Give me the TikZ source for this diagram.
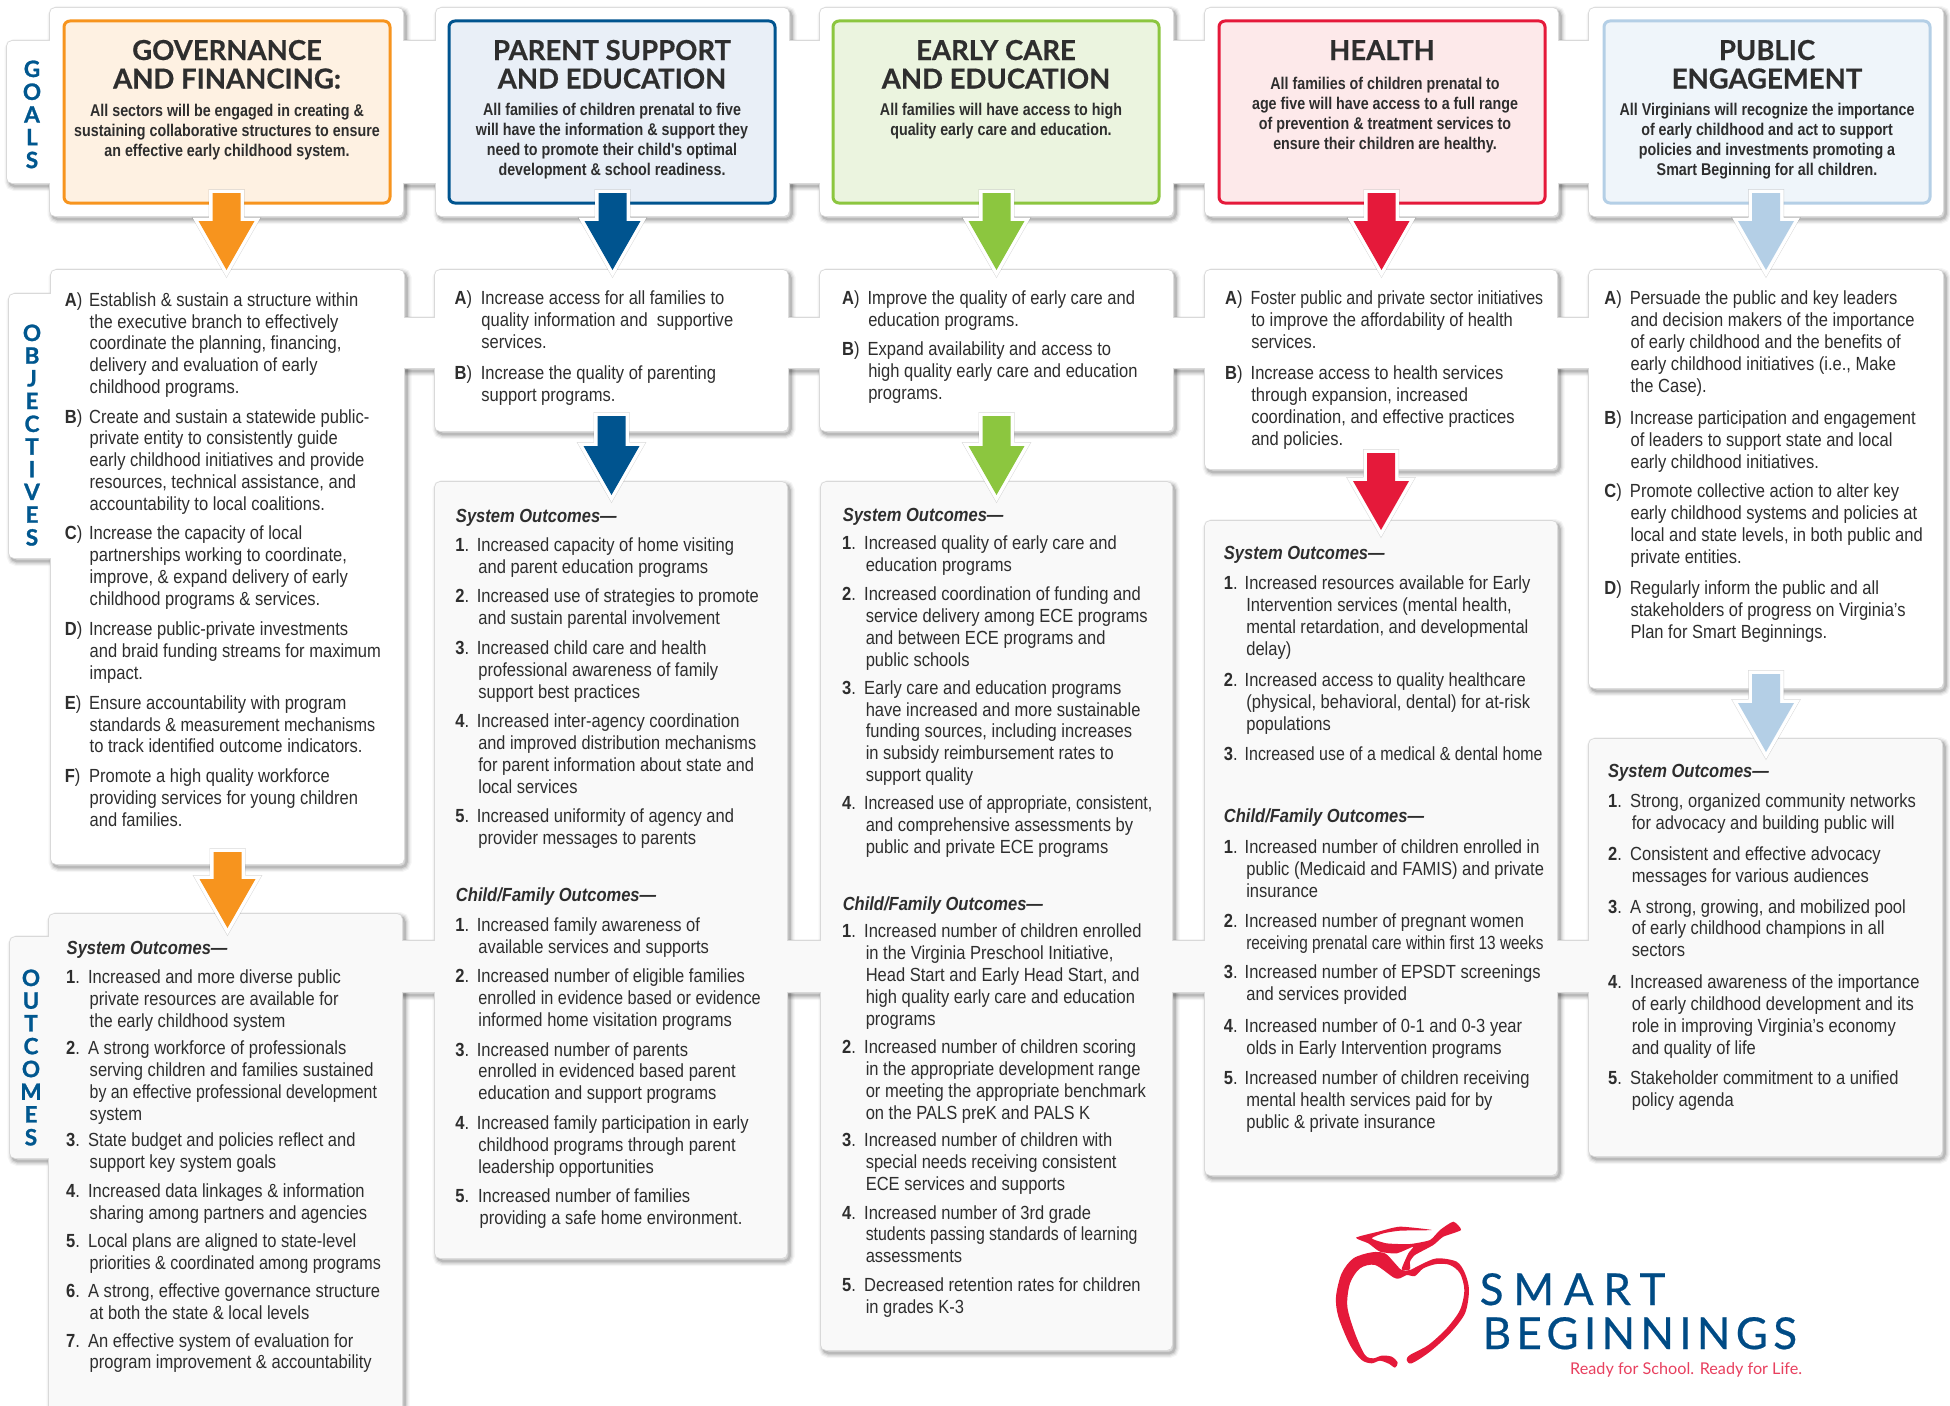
\documentclass[tikz,border=0pt]{standalone}
\usepackage{fontspec}
\usepackage{array}
\usepackage{graphicx}
\setmainfont[FakeStretch=0.87]{Liberation Sans}
\newfontfamily\descfont[FakeStretch=0.84]{Liberation Sans}
\newfontfamily\headfont[BoldFeatures={FakeBold=0.5}]{Lato}
\newfontfamily\tabfont[BoldFeatures={FakeBold=1.2}]{Lato}
\newfontfamily\logofontA[LetterSpace=22,FakeBold=0.5]{Lato}
\newfontfamily\logofontB[LetterSpace=12,FakeBold=0.5]{Lato}
\newfontfamily\tagfont{Lato}
\usetikzlibrary{calc,fit}
\definecolor{orangeC}{HTML}{F7941E}\definecolor{orangeF}{HTML}{FEF1E2}
\definecolor{blueC}{HTML}{00548F}\definecolor{blueF}{HTML}{E9EFF7}
\definecolor{greenC}{HTML}{8CC63F}\definecolor{greenF}{HTML}{EBF4DF}
\definecolor{redC}{HTML}{E5193A}\definecolor{redF}{HTML}{FDE9EA}
\definecolor{skyC}{HTML}{B4CFE6}\definecolor{skyF}{HTML}{EFF5FA}
\definecolor{ink}{HTML}{2E2E2E}\definecolor{outF}{HTML}{F9F9F9}
\definecolor{edgeC}{HTML}{D9D9D9}\definecolor{logoB}{HTML}{004B85}\definecolor{tagC}{HTML}{E8405F}
\definecolor{tabB}{HTML}{00578F}
\newcommand\LL[1]{\begin{tabular}[t]{@{}l@{}}#1\end{tabular}}
\newcommand\CC[1]{\begin{tabular}[t]{@{}c@{}}#1\end{tabular}}
\newcommand\Nw[2]{\scalebox{#1}[1]{#2}}
\tikzset{
 lab/.style={anchor=base west,inner sep=0pt,text=ink,font=\fontsize{19}{21.9}\selectfont},
 txt/.style={anchor=base west,inner sep=0pt,text=ink,font=\fontsize{19}{21.9}\selectfont},
 hdr/.style={anchor=base west,inner sep=0pt,text=ink,font=\fontsize{19}{21.9}\selectfont\bfseries\itshape},
 gtitle/.style={anchor=base,inner sep=0pt,text=ink,font=\fontsize{27.5}{28}\selectfont\headfont\bfseries},
 gdesc/.style={anchor=base,inner sep=0pt,text=ink,font=\fontsize{17}{20}\selectfont\descfont\bfseries},
 tabtxt/.style={anchor=base,inner sep=0pt,text=tabB,font=\fontsize{22.5}{21.4}\selectfont\tabfont\bfseries},
 goalbox/.style={draw=#1,line width=3pt,rounded corners=6pt},
 arrowcase/.style={line join=miter,miter limit=10},
}
\newcommand\Card[7]{\node[fit={(#2,#3)(#4,#5)},inner sep=0pt,outer sep=0pt,fill=#6,rounded corners=#7pt] (#1) {};}
\newcommand\RowBack[1]{%
 \foreach \lw/\op in {10/.04,7.5/.06,5/.08,2.5/.12}{%
  \foreach \xa/\ya/\xb/\yb in {#1}{%
   \draw[black,line width=\lw pt,opacity=\op,rounded corners=5pt,shift={(2.5,3)}] (\xa,\ya) rectangle (\xb,\yb);}}%
 \foreach \xa/\ya/\xb/\yb in {#1}{%
   \draw[edgeC,line width=1.6pt,rounded corners=5pt] (\xa,\ya) rectangle (\xb,\yb);}}
% #1 source card, #2 target card, #3 colour, #4 top inset into source, #5 tip inset into target
\newcommand\ArrowOutline{($(tp)+(-14,0)$) -- ($(tp)+(14,0)$) -- ($(tc)+(14,-49)$) -- ($(tc)+(28,-49)$) -- (tc) -- ($(tc)+(-28,-49)$) -- ($(tc)+(-14,-49)$) -- cycle}
\newcommand\BlockArrow[5]{%
 \coordinate (tp) at ($(#1.south)+(0,-#4)$);
 \coordinate (tc) at ($(#1.south |- #2.north)+(0,#5)$);
 \path[arrowcase,draw=black,line width=8pt,opacity=.15,shift={(1.5,2)}] \ArrowOutline;
 \path[arrowcase,draw=white,line width=7pt] \ArrowOutline;
 \path[arrowcase,fill=#3] \ArrowOutline;}
\newcommand\FK{-0.6pt}
\newcommand\Itm[6]{%
 \node[lab] (#1l) at (#2,#4) {#5};
 \node[txt] (#1) at (#3,#4) {\LL{\kern\FK\relax #6}};}
\newcommand\Nm[1]{\textbf{#1}.}
\newcommand\Lt[1]{\textbf{#1})}
\begin{document}
\begin{tikzpicture}[x=1pt,y=-1pt]
\useasboundingbox (0,0) rectangle (1950,1405);
\clip (0,0) rectangle (1950,1405);
\fill[white] (0,0) rectangle (1950,1405);
% GOALS row
\RowBack{7/41/60/183,50/8/403/216,436/8/789/216,820/8/1173/216,1205/8/1558/216,1589/8/1943/216,100/41/1850/183}
\Card{gTab}{7}{41}{60}{183}{white}{5}
\Card{gBand}{100}{41}{1850}{183}{white}{0}
\Card{g1}{50}{8}{403}{216}{white}{5}
\Card{g2}{436}{8}{789}{216}{white}{5}
\Card{g3}{820}{8}{1173}{216}{white}{5}
\Card{g4}{1205}{8}{1558}{216}{white}{5}
\Card{g5}{1589}{8}{1943}{216}{white}{5}
\draw[goalbox=orangeC,fill=orangeF] (64,21) rectangle (390,203);
\draw[goalbox=blueC,fill=blueF] (449,21) rectangle (775,203);
\draw[goalbox=greenC,fill=greenF] (833,21) rectangle (1159,203);
\draw[goalbox=redC,fill=redF] (1219,21) rectangle (1545,203);
\draw[goalbox=skyC,fill=skyF] (1604,21) rectangle (1930,203);
\node[tabtxt] (goalsLabel) at (32,77) {\CC{G\\O\\A\\L\\S}};
\node[gtitle] (t1) at (227,60) {\CC{GOVERNANCE\\AND FINANCING:}};
\node[gtitle] (t2) at (612,60) {\CC{PARENT SUPPORT\\AND EDUCATION}};
\node[gtitle] (t3) at (996,60) {\CC{EARLY CARE\\AND EDUCATION}};
\node[gtitle] (t4) at (1382,60) {\CC{HEALTH}};
\node[gtitle] (t5) at (1767,60) {\CC{PUBLIC\\ENGAGEMENT}};
\node[gdesc] (d1) at (227,116) {\CC{All sectors will be engaged in creating \&\\sustaining collaborative structures to ensure\\an effective early childhood system.}};
\node[gdesc] (d2) at (612,115) {\CC{All families of children prenatal to five\\will have the information \& support they\\need to promote their child's optimal\\development \& school readiness.}};
\node[gdesc] (d3) at (1001,115) {\CC{All families will have access to high\\quality early care and education.}};
\node[gdesc] (d4) at (1385,89) {\CC{All families of children prenatal to\\age five will have access to a full range\\of prevention \& treatment services to\\ensure their children are healthy.}};
\node[gdesc] (d5) at (1767,115) {\CC{All Virginians will recognize the importance\\of early childhood and act to support\\policies and investments promoting a\\Smart Beginning for all children.}};
% OBJECTIVES row
\RowBack{9/294/60/558,51/270/404/864,435/270/788/431,820/270/1173/431,1205/270/1557/469,1589/270/1943/688,100/318/1850/368}
\Card{oTab}{9}{294}{60}{558}{white}{5}
\Card{oBand}{100}{318}{1850}{368}{white}{0}
\Card{o1}{51}{270}{404}{864}{white}{5}
\Card{o2}{435}{270}{788}{431}{white}{5}
\Card{o3}{820}{270}{1173}{431}{white}{5}
\Card{o4}{1205}{270}{1557}{469}{white}{5}
\Card{o5}{1589}{270}{1943}{688}{white}{5}
\node[tabtxt] (objLabel) at (32,341) {\CC{O\\B\\J\\E\\C\\T\\I\\V\\E\\S}};
% OUTCOMES row
\RowBack{10/937/60/1158,49/914/402/1440,435/482/787/1258,821/482/1172/1350,1205/521/1557/1175,1589/739/1942/1156,100/941/1850/992}
\Card{uTab}{10}{937}{60}{1158}{outF}{5}
\Card{uBand}{100}{941}{1850}{992}{outF}{0}
\Card{u1}{49}{914}{402}{1440}{outF}{5}
\Card{u2}{435}{482}{787}{1258}{outF}{5}
\Card{u3}{821}{482}{1172}{1350}{outF}{5}
\Card{u4}{1205}{521}{1557}{1175}{outF}{5}
\Card{u5}{1589}{739}{1942}{1156}{outF}{5}
\node[tabtxt] (outLabel) at (31,986) {\CC{O\\U\\T\\C\\O\\M\\E\\S}};
% TEXT, in the coordinates of line centres
\begin{scope}[x=1.2436pt,y=-1.2436pt,shift={(0,5.2)}]
% column 1 objectives
\Itm{oa1}{52}{72}{241}{\Lt{A}}{Establish \& sustain a structure within\\the executive branch to effectively\\coordinate the planning, financing,\\delivery and evaluation of early\\childhood programs.}
\Itm{ob1}{52}{72}{335}{\Lt{B}}{Create and sustain a statewide public-\\private entity to consistently guide\\early childhood initiatives and provide\\resources, technical assistance, and\\accountability to local coalitions.}
\Itm{oc1}{52}{72}{429}{\Lt{C}}{Increase the capacity of local\\partnerships working to coordinate,\\improve, \& expand delivery of early\\childhood programs \& services.}
\Itm{od1}{52}{72}{506}{\Lt{D}}{Increase public-private investments\\and braid funding streams for maximum\\impact.}
\Itm{oe1}{52}{72}{565}{\Lt{E}}{Ensure accountability with program\\\Nw{.98}{standards \& measurement mechanisms}\\to track identified outcome indicators.}
\Itm{of1}{52}{72}{624}{\Lt{F}}{Promote a high quality workforce\\providing services for young children\\and families.}
% column 2 objectives
\Itm{oa2}{365.5}{387}{240}{\Lt{A}}{Increase access for all families to\\quality information and\ \ supportive\\services.}
\Itm{ob2}{365.5}{387}{300}{\Lt{B}}{Increase the quality of parenting\\support programs.}
% column 3 objectives
\Itm{oa3}{677}{698}{240}{\Lt{A}}{Improve the quality of early care and\\education programs.}
\Itm{ob3}{677}{698}{281}{\Lt{B}}{Expand availability and access to\\high quality early care and education\\programs.}
% column 4 objectives
\Itm{oa4}{985}{1006}{240}{\Lt{A}}{\Nw{.965}{Foster public and private sector initiatives}\\to improve the affordability of health\\services.}
\Itm{ob4}{985}{1006}{300}{\Lt{B}}{Increase access to health services\\through expansion, increased\\coordination, and effective practices\\and policies.}
% column 5 objectives
\Itm{oa5}{1290}{1311}{240}{\Lt{A}}{Persuade the public and key leaders\\and decision makers of the importance\\of early childhood and the benefits of\\early childhood initiatives (i.e., Make\\the Case).}
\Itm{ob5}{1290}{1311}{336}{\Lt{B}}{Increase participation and engagement\\of leaders to support state and local\\early childhood initiatives.}
\Itm{oc5}{1290}{1311}{395}{\Lt{C}}{Promote collective action to alter key\\early childhood systems and policies at\\local and state levels, in both public and\\private entities.}
\Itm{od5}{1290}{1311}{473}{\Lt{D}}{Regularly inform the public and all\\stakeholders of progress on Virginia's\\Plan for Smart Beginnings.}
\renewcommand\FK{-1.6pt}
% column 1 outcomes
\node[hdr] (h1) at (53.5,762) {System Outcomes---};
\Itm{s11}{53}{72}{786}{\Nm{1}}{Increased and more diverse public\\private resources are available for\\the early childhood system}
\Itm{s12}{53}{72}{843}{\Nm{2}}{A strong workforce of professionals\\serving children and families sustained\\\Nw{.96}{by an effective professional development}\\system}
\Itm{s13}{53}{72}{917}{\Nm{3}}{State budget and policies reflect and\\support key system goals}
\Itm{s14}{53}{72}{958}{\Nm{4}}{Increased data linkages \& information\\sharing among partners and agencies}
\Itm{s15}{53}{72}{998}{\Nm{5}}{Local plans are aligned to state-level\\\Nw{.975}{priorities \& coordinated among programs}}
\Itm{s16}{53}{72}{1038}{\Nm{6}}{A strong, effective governance structure\\at both the state \& local levels}
\Itm{s17}{53}{72}{1078}{\Nm{7}}{An effective system of evaluation for\\program improvement \& accountability}
% column 2 outcomes
\node[hdr] (h2) at (366.5,415) {System Outcomes---};
\Itm{s21}{366}{384.5}{438}{\Nm{1}}{Increased capacity of home visiting\\and parent education programs}
\Itm{s22}{366}{384.5}{479}{\Nm{2}}{Increased use of strategies to promote\\and sustain parental involvement}
\Itm{s23}{366}{384.5}{521}{\Nm{3}}{Increased child care and health\\professional awareness of family\\support best practices}
\Itm{s24}{366}{384.5}{580}{\Nm{4}}{Increased inter-agency coordination\\\Nw{.985}{and improved distribution mechanisms}\\for parent information about state and\\local services}
\Itm{s25}{366}{384.5}{656}{\Nm{5}}{Increased uniformity of agency and\\provider messages to parents}
\node[hdr] (c2) at (366.5,720) {Child/Family Outcomes---};
\Itm{f21}{366}{384.5}{744}{\Nm{1}}{Increased family awareness of\\available services and supports}
\Itm{f22}{366}{384.5}{785}{\Nm{2}}{Increased number of eligible families\\\Nw{.985}{enrolled in evidence based or evidence}\\informed home visitation programs}
\Itm{f23}{366}{384.5}{844}{\Nm{3}}{Increased number of parents\\enrolled in evidenced based parent\\education and support programs}
\Itm{f24}{366}{384.5}{903}{\Nm{4}}{Increased family participation in early\\childhood programs through parent\\leadership opportunities}
\Itm{f25}{366}{385.5}{962}{\Nm{5}}{Increased number of families\\providing a safe home environment.}
% column 3 outcomes
\node[hdr] (h3) at (677.5,414) {System Outcomes---};
\Itm{s31}{677}{696}{437}{\Nm{1}}{Increased quality of early care and\\education programs}
\Itm{s32}{677}{696}{478}{\Nm{2}}{Increased coordination of funding and\\service delivery among ECE programs\\and between ECE programs and\\public schools}
\Itm{s33}{677}{696}{553}{\Nm{3}}{Early care and education programs\\have increased and more sustainable\\funding sources, including increases\\in subsidy reimbursement rates to\\support quality}
\Itm{s34}{677}{696}{646}{\Nm{4}}{\Nw{.965}{Increased use of appropriate, consistent,}\\and comprehensive assessments by\\public and private ECE programs}
\node[hdr] (c3) at (677.5,727) {Child/Family Outcomes---};
\Itm{f31}{677}{696}{749}{\Nm{1}}{Increased number of children enrolled\\in the Virginia Preschool Initiative,\\Head Start and Early Head Start, and\\high quality early care and education\\programs}
\Itm{f32}{677}{696}{842}{\Nm{2}}{Increased number of children scoring\\in the appropriate development range\\or meeting the appropriate benchmark\\on the PALS preK and PALS K}
\Itm{f33}{677}{696}{917}{\Nm{3}}{Increased number of children with\\special needs receiving consistent\\ECE services and supports}
\Itm{f34}{677}{696}{975}{\Nm{4}}{Increased number of 3rd grade\\\Nw{.96}{students passing standards of learning}\\assessments}
\Itm{f35}{677}{696}{1033}{\Nm{5}}{Decreased retention rates for children\\in grades K-3}
% column 4 outcomes
\node[hdr] (h4) at (984,445) {System Outcomes---};
\Itm{s41}{984}{1002}{469}{\Nm{1}}{Increased resources available for Early\\Intervention services (mental health,\\mental retardation, and developmental\\delay)}
\Itm{s42}{984}{1002}{547}{\Nm{2}}{Increased access to quality healthcare\\(physical, behavioral, dental) for at-risk\\populations}
\Itm{s43}{984}{1002}{606}{\Nm{3}}{\Nw{.965}{Increased use of a medical \& dental home}}
\node[hdr] (c4) at (984,656) {Child/Family Outcomes---};
\Itm{f41}{984}{1002}{681}{\Nm{1}}{Increased number of children enrolled in\\public (Medicaid and FAMIS) and private\\insurance}
\Itm{f42}{984}{1002}{741}{\Nm{2}}{Increased number of pregnant women\\\Nw{.93}{receiving prenatal care within first 13 weeks}}
\Itm{f43}{984}{1002}{782}{\Nm{3}}{Increased number of EPSDT screenings\\and services provided}
\Itm{f44}{984}{1002}{825}{\Nm{4}}{Increased number of 0-1 and 0-3 year\\olds in Early Intervention programs}
\Itm{f45}{984}{1002}{867}{\Nm{5}}{Increased number of children receiving\\mental health services paid for by\\public \& private insurance}
% column 5 outcomes
\node[hdr] (h5) at (1293,620) {System Outcomes---};
\Itm{s51}{1293}{1312}{644}{\Nm{1}}{Strong, organized community networks\\for advocacy and building public will}
\Itm{s52}{1293}{1312}{687}{\Nm{2}}{Consistent and effective advocacy\\messages for various audiences}
\Itm{s53}{1293}{1312}{729}{\Nm{3}}{A strong, growing, and mobilized pool\\of early childhood champions in all\\sectors}
\Itm{s54}{1293}{1312}{790}{\Nm{4}}{Increased awareness of the importance\\of early childhood development and its\\role in improving Virginia's economy\\and quality of life}
\Itm{s55}{1293}{1312}{867}{\Nm{5}}{Stakeholder commitment to a unified\\policy agenda}
\end{scope}
% ARROWS
\BlockArrow{g1}{o1}{orangeC}{23}{0}
\BlockArrow{g2}{o2}{blueC}{23}{0}
\BlockArrow{g3}{o3}{greenC}{23}{0}
\BlockArrow{g4}{o4}{redC}{23}{0}
\BlockArrow{g5}{o5}{skyC}{23}{0}
\BlockArrow{o1}{u1}{orangeC}{12}{14}
\BlockArrow{o2}{u2}{blueC}{15}{13}
\BlockArrow{o3}{u3}{greenC}{15}{13}
\BlockArrow{o4}{u4}{redC}{16}{9}
\BlockArrow{o5}{u5}{skyC}{14}{13}
% LOGO
\begin{scope}[shift={(1300,1190)},x=0.3333pt,y=-0.3333pt]
\fill[redC] plot[smooth cycle,tension=.5] coordinates {(280,262)(225,225)(180,235)(150,280)(142,350)(165,430)(195,495)(220,505)(245,497)(275,500)(293,518)(285,533)(268,522)(240,512)(215,520)(185,510)(150,465)(115,380)(108,320)(125,250)(160,205)(215,187)(255,190)(285,220)(305,240)(330,240)(360,225)(410,205)(470,215)(495,250)(507,300)(495,370)(450,430)(390,485)(335,520)(320,510)(330,495)(385,465)(440,415)(480,360)(493,300)(480,250)(450,225)(410,222)(370,235)(345,258)(320,255)(300,265)};
\fill[redC] plot[smooth cycle,tension=.35] coordinates {(168,143)(235,125)(300,110)(395,120)(300,122)(250,130)(215,145)(260,160)(330,162)(390,150)(420,120)(460,95)(483,120)(430,140)(400,165)(345,195)(330,215)(330,238)(305,238)(325,190)(340,170)(290,190)(240,185)(205,160)};
\end{scope}
\node[anchor=base west,inner sep=0pt,text=logoB,font=\fontsize{44}{44}\selectfont\logofontA] (logoA) at (1479.5,1305) {SMART};
\node[anchor=base west,inner sep=0pt,text=logoB,font=\fontsize{44}{44}\selectfont\logofontB] (logoB) at (1482.5,1349) {BEGINNINGS};
\node[anchor=base west,inner sep=0pt,text=tagC,font=\fontsize{16.2}{18}\selectfont\tagfont] (logoC) at (1570,1374) {Ready for School. Ready for Life.};
\end{tikzpicture}
\end{document}
